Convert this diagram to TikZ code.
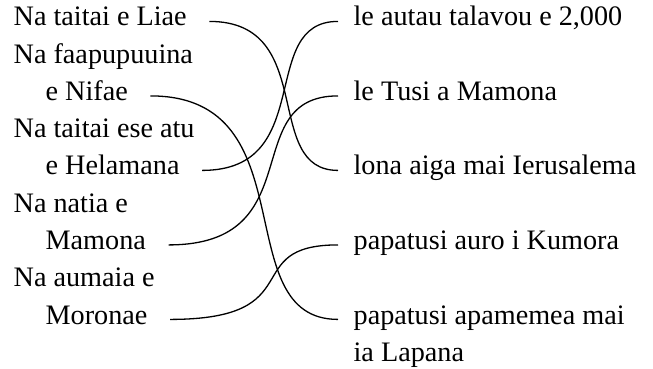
\documentclass[tikz,border=0pt]{standalone}
\usepackage{fontspec}
\setmainfont{Liberation Serif}
\usetikzlibrary{calc}
\begin{document}
\begin{tikzpicture}[x=0.5pt, y=-0.5pt, line width=0.65pt,
    lbl/.style={anchor=base west, inner sep=0pt}]
            \tikzstyle{every node}=[font=\fontsize{14.1}{16}\selectfont]
            \useasboundingbox (0,0) rectangle (653,369);

              % left column
              \node[lbl] (l1) at (13,26) {Na taitai e Liae};
              \node[lbl] (l2a) at (13,63.25) {Na faapupuuina};
              \node[lbl] (l2) at (45,100.5) {e Nifae};
              \node[lbl] (l3a) at (13,137.75) {Na taitai ese atu};
              \node[lbl] (l3) at (45,175) {e Helamana};
              \node[lbl] (l4a) at (13,212.25) {Na natia e};
              \node[lbl] (l4) at (45,249.5) {Mamona};
              \node[lbl] (l5a) at (13,286.75) {Na aumaia e};
              \node[lbl] (l5) at (45,324) {Moronae};

              % right column
              \node[lbl] (r1) at (353,26) {le autau talavou e 2,000};
              \node[lbl] (r2) at (353,100.5) {le Tusi a Mamona};
              \node[lbl] (r3) at (353,175) {lona aiga mai Ierusalema};
              \node[lbl] (r4) at (353,249.5) {papatusi auro i Kumora};
              \node[lbl] (r5) at (353,324) {papatusi apamemea mai};
              \node[lbl] (r5b) at (353,361.25) {ia Lapana};

              % connector ends
              \foreach \i in {1,...,5} {
                \coordinate (s\i) at ([xshift=11pt]l\i.mid east);
                \coordinate (e\i) at ([xshift=-7.5pt]r\i.mid west);
              }

              \foreach \a/\b in {s1/e3, s2/e5, s3/e1, s4/e2, s5/e4}
                \draw (\a) .. controls ($(\a)!0.85!(\a -| \b)$) and ($(\b)!0.6!(\b -| \a)$) .. (\b);

            \end{tikzpicture}
\end{document}
